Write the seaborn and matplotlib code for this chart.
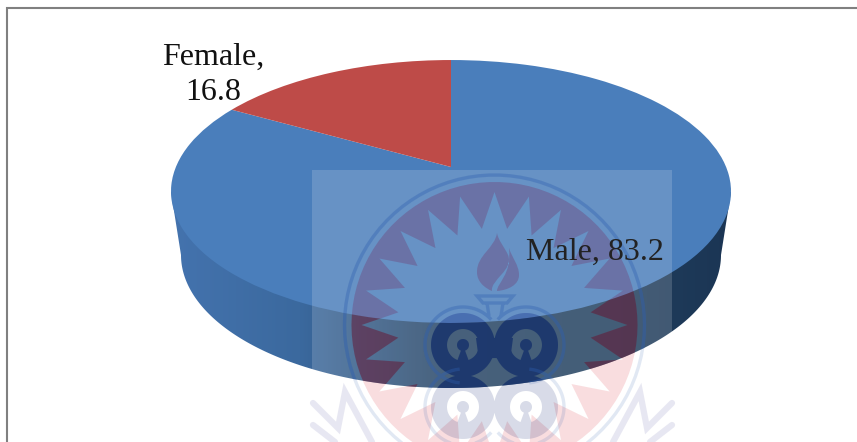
import numpy as np
import matplotlib
matplotlib.use("Agg")
import matplotlib.pyplot as plt
import seaborn as sns
from matplotlib.path import Path
from matplotlib.patches import PathPatch, Rectangle

categories = ["Male", "Female"]
values = [83.2, 16.8]
colors = ["#4a7ebb", "#be4b48"]

sns.set_theme(style="white")
plt.rcParams["font.family"] = ["Liberation Serif", "DejaVu Serif"]

fig = plt.figure(figsize=(8.57, 4.42), dpi=100, facecolor="white")
ax = fig.add_axes([0, 0, 1, 1])

# perspective mapping of the flat pie on to the picture plane
CX, APEX_Y, A, B, P = 451.0, 167.0, 275.1, 126.9, 0.1863


def project(v):
    w = 1 + P * v[:, 1]
    return np.column_stack([CX + A * v[:, 0] / w, APEX_Y - B * v[:, 1] / w])


def closed(pts):
    pts = np.asarray(pts, float)
    return Path(np.vstack([pts, pts[:1]]), closed=True)


# outlines of the solid
t = np.linspace(0, np.pi, 240)
rim_bottom = np.column_stack([451 + 270 * np.cos(t), 255 + 133 * np.sin(t)])
rim_top = np.column_stack([451 + 280 * np.cos(t), 191.5 + 131.5 * np.sin(t)])
hull = np.vstack([[[731, 192]], rim_bottom, [[171, 192]]])
side_clip = closed(np.vstack([[[731, 192]], rim_bottom, [[171, 192]], rim_top[::-1]]))
tt = np.linspace(0, 2 * np.pi, 360, endpoint=False)
top_clip = closed(np.column_stack([451 + 280 * np.cos(tt), 191.5 + 131.5 * np.sin(tt)]))

# side wall
grad_x = [171, 300, 450, 600, 731]
grad_c = np.array([[0x44, 0x73, 0xae], [0x3b, 0x69, 0x9e], [0x25, 0x43, 0x63],
                   [0x21, 0x40, 0x5f], [0x1b, 0x35, 0x54]]) / 255
xs = np.arange(171, 732)
img = np.stack([np.interp(xs, grad_x, grad_c[:, i]) for i in range(3)], axis=-1)[None, :, :]
im = ax.imshow(img, extent=(171, 731, 390, 180), aspect="auto", zorder=1)
im.set_clip_path(closed(hull), ax.transData)

# top face: the pie itself, clockwise from twelve o'clock
wedges, _ = ax.pie(values, colors=colors, startangle=90, counterclock=False,
                   center=(0, 0), radius=1.0, wedgeprops={"linewidth": 0})
for w in wedges:
    path = w.get_path()
    w._path = Path(project(path.vertices), path.codes)
    w.set_zorder(2)

ax.set_aspect("auto")
ax.set_xlim(0, 857)
ax.set_ylim(442, 0)
ax.set_axis_off()

# frame
ax.plot([7.5, 7.5, 857], [442, 7.5, 7.5], color="#808080", lw=1.5, zorder=3,
        solid_joinstyle="miter", clip_on=False)

# watermark: pale panel and emblem
ax.add_patch(Rectangle((312, 170), 360, 272, fc="white", alpha=0.16, lw=0, zorder=4))
ECX, ECY = 494.5, 325
LOBES = [(463, 345), (526, 345), (463, 407), (526, 407)]


def circle_pts(cx, cy, r, sign=1):
    a = np.linspace(0, 2 * np.pi, 90, endpoint=False) * sign
    return np.column_stack([cx + r * np.cos(a), cy + r * np.sin(a)])


def red_path():
    ang = np.pi / 2 + np.arange(48) * 2 * np.pi / 48
    rad = np.where(np.arange(48) % 2 == 0, 133, 97)
    star = np.column_stack([ECX + rad * np.cos(ang), ECY + rad * np.sin(ang)])
    return Path.make_compound_path(closed(circle_pts(ECX, ECY, 143)), closed(star[::-1]))


def flame_path():
    m, c, z = Path.MOVETO, Path.CURVE4, Path.CLOSEPOLY
    left = Path([(497, 233), (495, 248), (477, 255), (477, 272), (477, 282), (485, 288), (492, 291),
                 (490, 280), (514, 270), (508, 255), (505, 248), (498, 240), (497, 233), (497, 233)],
                [m] + [c] * 12 + [z])
    right = Path([(509, 248), (512, 258), (519, 265), (519, 275), (519, 285), (508, 290), (497, 291),
                  (497, 283), (512, 275), (509, 248), (509, 248)],
                 [m] + [c] * 9 + [z])
    return Path.make_compound_path(left, right)


def navy_path():
    parts = []
    for cx, cy in LOBES:
        parts.append(closed(circle_pts(cx, cy, 32)))
        a = np.radians(np.linspace(110, 430, 60))
        outer = np.column_stack([cx + 16 * np.cos(a), cy + 16 * np.sin(a)])
        inner = np.column_stack([cx + 6 * np.cos(a), cy + 6 * np.sin(a)])
        parts.append(closed(np.vstack([outer[::-1], inner])))
    # the wedge between the upper lobes, hollowed above the centre disc
    arc = np.radians(np.linspace(210, 330, 30))
    blob_top = np.column_stack([ECX + 17 * np.cos(arc), 375 + 17 * np.sin(arc)])
    parts.append(closed(np.vstack([[[476, 338], [513, 338]], blob_top[::-1]])))
    return Path.make_compound_path(*parts)


def line_paths():
    parts = [closed(circle_pts(ECX, ECY, 150))]
    parts.append(closed([(477, 296), (513, 296), (507, 303), (483, 303)]))
    parts.append(Path([(487, 303), (489, 316)]))
    parts.append(Path([(503, 303), (501, 316)]))
    for (cx, cy), (a0, a1) in zip(LOBES, [(95, 318), (222, 445), (42, 265), (-85, 138)]):
        a = np.radians(np.linspace(a0, a1, 60))
        parts.append(Path(np.column_stack([cx + 38 * np.cos(a), cy + 38 * np.sin(a)])))
    return Path.make_compound_path(*parts)


def emblem(red_c, red_a, navy_c, navy_a, line_a, clip=None):
    arts = [PathPatch(red_path(), fc=red_c, alpha=red_a, lw=0),
            PathPatch(flame_path(), fc=red_c, alpha=red_a, lw=0),
            PathPatch(navy_path(), fc=navy_c, alpha=navy_a, lw=0),
            PathPatch(line_paths(), fc="none", ec="#2f5fb0", lw=2.4, alpha=line_a)]
    for a in arts:
        a.set_zorder(5)
        ax.add_patch(a)
        if clip is not None:
            a.set_clip_path(clip, ax.transData)


emblem("#d8202c", 0.15, "#1b2f78", 0.17, 0.14)
emblem("#2a2a80", 0.17, "#1a3aa0", 0.25, 0.25, clip=top_clip)
emblem("#501030", 0.42, "#14306a", 0.75, 0.35, clip=side_clip)

# laurel strokes at the foot of the emblem
for pts in ([(313, 403), (338, 428), (345, 392), (372, 442)], [(313, 425), (335, 442)]):
    pts = np.array(pts, float)
    for xv in (pts[:, 0], 985 - pts[:, 0]):
        ax.plot(xv, pts[:, 1], color="#c8c8e0", lw=4.5, alpha=0.42, zorder=5,
                solid_joinstyle="miter")

# labels
ax.text(213, 65, "Female,", fontsize=23, color="#111111", ha="center", va="baseline", zorder=6)
ax.text(213, 100, "16.8", fontsize=23, color="#111111", ha="center", va="baseline", zorder=6)
ax.text(595, 260, "Male, 83.2", fontsize=23, color="#222222", ha="center", va="baseline", zorder=6)

fig.savefig("out.png", dpi=100, facecolor="white")
